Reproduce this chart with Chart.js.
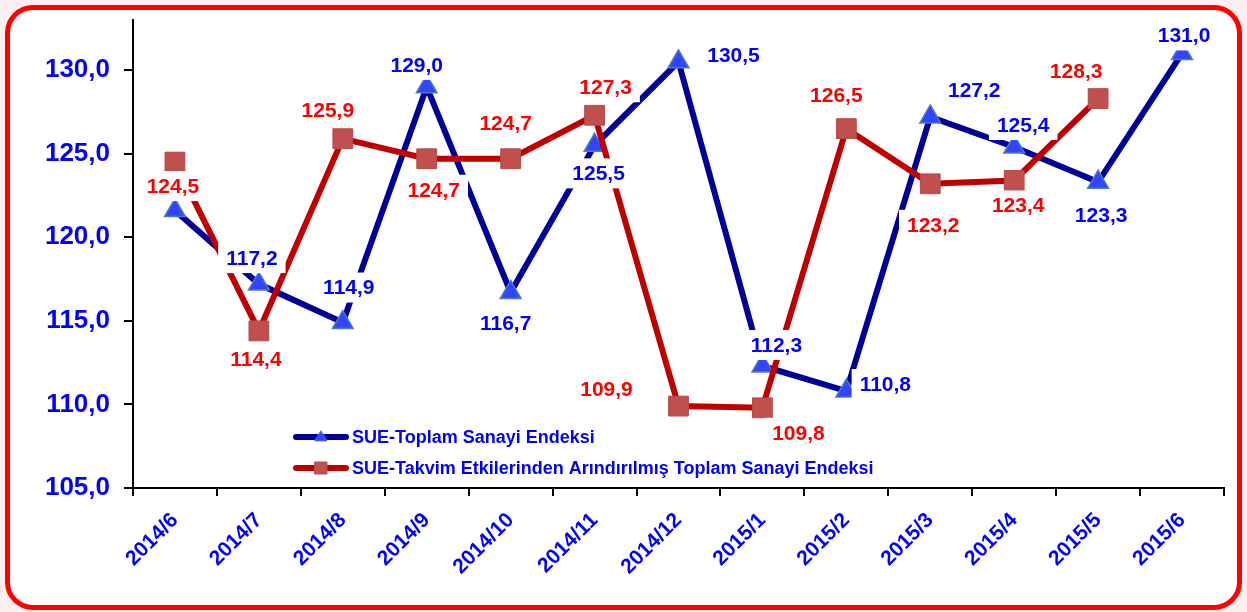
<!DOCTYPE html>
<html>
<head>
<meta charset="utf-8">
<script src="https://cdn.jsdelivr.net/npm/chart.js@4"></script>
<style>
  html, body { margin: 0; padding: 0; background: #fcefef; overflow: hidden; }
  #frame {
    position: absolute; left: 5px; top: 5px; width: 1227px; height: 595px;
    border: 5px solid #ff0000; border-radius: 28px; background: #ffffff;
  }
  #chart { position: absolute; left: 0; top: 0; }
</style>
</head>
<body>
<div id="frame"></div>
<canvas id="chart" width="1247" height="612"></canvas>
<script>
// Data
const months = ['2014/6', '2014/7', '2014/8', '2014/9', '2014/10', '2014/11', '2014/12',
                '2015/1', '2015/2', '2015/3', '2015/4', '2015/5', '2015/6'];
const toplam = [121.6, 117.2, 114.9, 129.0, 116.7, 125.5, 130.5, 112.3, 110.8, 127.2, 125.4, 123.3, 131.0];
const takvim = [124.5, 114.4, 125.9, 124.7, 124.7, 127.3, 109.9, 109.8, 126.5, 123.2, 123.4, 128.3, null];
const yTicks = [105, 110, 115, 120, 125, 130];

const toplamName = 'SUE-Toplam Sanayi Endeksi';
const takvimName = 'SUE-Takvim Etkilerinden Arındırılmış Toplam Sanayi Endeksi';

// where each value label sits relative to its point (dx, dy), null = no label
const toplamLabelPos = [null, [-7, -26], [6, -35], [-10, -22], [-5, 31], [4, 28], [55, -7],
                        [14, -21], [39, -7], [44, -27], [9, -22], [3, 33], [2, -18]];
const takvimLabelPos = [[-2, 24], [-3, 28], [-15, -28], [7, 31], [-5, -36], [11, -28], [-72, -17],
                        [36, 25], [-10, -33], [3, 41], [4, 25], [-22, -27], null];

const FONT = '"Liberation Sans", Arial, sans-serif';

function fmt(v) {
  return v.toFixed(1).replace('.', ',');
}

// value labels with white boxes, drawn over everything
const valueLabels = {
  id: 'valueLabels',
  afterDatasetsDraw(chart) {
    const ctx = chart.ctx;
    const sets = [
      { idx: 0, pos: toplamLabelPos, color: '#0000ff' },
      { idx: 1, pos: takvimLabelPos, color: '#ff0000' }
    ];
    ctx.save();
    ctx.font = 'bold 21px ' + FONT;
    ctx.textAlign = 'center';
    ctx.textBaseline = 'middle';
    sets.forEach(s => {
      const meta = chart.getDatasetMeta(s.idx);
      const data = chart.data.datasets[s.idx].data;
      meta.data.forEach((pt, i) => {
        const p = s.pos[i];
        if (!p || data[i] == null) return;
        const txt = fmt(data[i]);
        const x = pt.x + p[0];
        const y = pt.y + p[1];
        const w = ctx.measureText(txt).width + 16;
        ctx.fillStyle = '#ffffff';
        ctx.fillRect(x - w / 2, y - 15, w, 30);
        ctx.fillStyle = s.color;
        ctx.fillText(txt, x, y + 1);
      });
    });
    ctx.restore();
  }
};

// legend drawn inside the plot
const innerLegend = {
  id: 'innerLegend',
  afterDraw(chart) {
    const ctx = chart.ctx;
    const rows = [
      { y: 437, line: '#000099', fill: '#3344ff', stroke: '#4a7ebb', shape: 'triangle', text: toplamName },
      { y: 468, line: '#c00000', fill: '#c0504d', stroke: '#b84a47', shape: 'rect', text: takvimName }
    ];
    ctx.save();
    rows.forEach(r => {
      ctx.strokeStyle = r.line;
      ctx.lineWidth = 6;
      ctx.lineCap = 'round';
      ctx.beginPath();
      ctx.moveTo(296, r.y);
      ctx.lineTo(346, r.y);
      ctx.stroke();
      ctx.fillStyle = r.fill;
      ctx.strokeStyle = r.stroke;
      ctx.lineWidth = 1;
      ctx.beginPath();
      if (r.shape === 'triangle') {
        ctx.moveTo(321, r.y - 6);
        ctx.lineTo(327, r.y + 4);
        ctx.lineTo(315, r.y + 4);
        ctx.closePath();
      } else {
        ctx.rect(315, r.y - 6, 12, 12);
      }
      ctx.fill();
      ctx.stroke();
      ctx.fillStyle = '#0000ff';
      ctx.font = 'bold 18px ' + FONT;
      ctx.textAlign = 'left';
      ctx.textBaseline = 'middle';
      ctx.fillText(r.text, 352, r.y + 1);
    });
    ctx.restore();
  }
};

const chart = new Chart(document.getElementById('chart'), {
  type: 'line',
  data: {
    labels: months,
    datasets: [
      {
        label: toplamName,
        data: toplam,
        borderColor: '#000099',
        borderWidth: 6,
        pointStyle: 'triangle',
        pointRadius: 12,
        pointBackgroundColor: '#3344ff',
        pointBorderColor: '#4a7ebb',
        pointBorderWidth: 1.5,
        tension: 0,
        order: 1
      },
      {
        label: takvimName,
        data: takvim,
        borderColor: '#c00000',
        borderWidth: 6,
        pointStyle: 'rect',
        pointRadius: 14,
        pointBackgroundColor: '#c0504d',
        pointBorderColor: '#b84a47',
        pointBorderWidth: 1,
        tension: 0,
        order: 0
      }
    ]
  },
  options: {
    responsive: false,
    animation: false,
    layout: { padding: { left: 0, top: 20, right: 23, bottom: 0 } },
    plugins: {
      legend: { display: false },
      tooltip: { enabled: false }
    },
    scales: {
      x: {
        offset: true,
        grid: {
          offset: true,
          drawOnChartArea: false,
          drawTicks: true,
          tickLength: 8,
          color: '#000000',
          lineWidth: 2
        },
        border: { display: true, color: '#000000', width: 2 },
        ticks: {
          autoSkip: false,
          minRotation: 45,
          maxRotation: 45,
          padding: 12,
          color: '#0000ff',
          font: { family: FONT, size: 21, weight: 'bold' }
        },
        afterFit: scale => { scale.height = 124; }
      },
      y: {
        min: 105,
        max: 133,
        grid: {
          drawOnChartArea: false,
          drawTicks: true,
          tickLength: 9,
          color: '#000000',
          lineWidth: 2
        },
        border: { display: true, color: '#000000', width: 2 },
        ticks: {
          stepSize: 5,
          padding: 14,
          color: '#0000ff',
          font: { family: FONT, size: 26, weight: 'bold' },
          callback: v => fmt(v)
        },
        afterBuildTicks: scale => {
          scale.ticks = yTicks.map(v => ({ value: v }));
        },
        afterFit: scale => {
          scale.width = 133;
          scale.paddingTop = 0;
          scale.paddingBottom = 0;
        }
      }
    }
  },
  plugins: [valueLabels, innerLegend]
});
</script>
</body>
</html>
